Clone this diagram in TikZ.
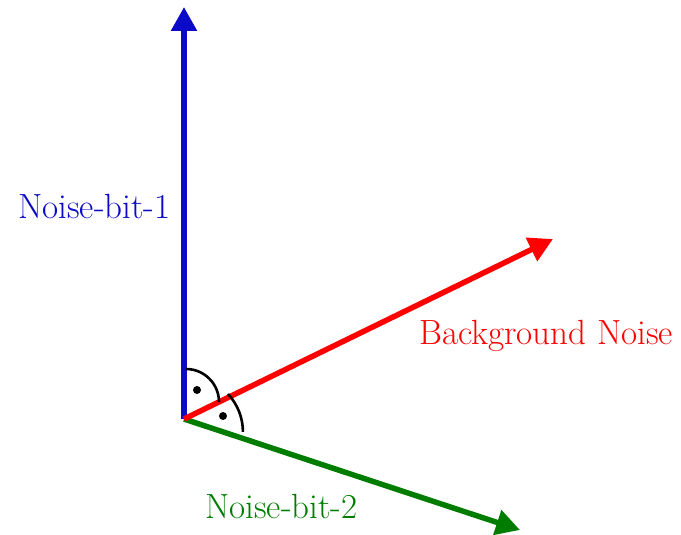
\documentclass[tikz,border=0pt]{standalone}
\usepackage{fontspec}
\usetikzlibrary{arrows.meta}
\definecolor{bitone}{RGB}{10,10,200}
\definecolor{bgnoise}{RGB}{255,0,0}
\definecolor{bittwo}{RGB}{0,125,0}
\definecolor{inkline}{RGB}{0,0,0}

\begin{document}
\begin{tikzpicture}[
  x=1pt, y=-1pt,
  >={Triangle[length=24pt,width=25pt]},
  vec/.style={->, line width=5.5pt},
  lab/.style={anchor=base west, inner sep=0pt, font=\rmfamily\fontsize{35}{42}\selectfont},
  ang/.style={draw=inkline, line width=2.6pt},
]
\useasboundingbox (0,0) rectangle (681,535);

% ---- origin + tips ----
\coordinate (o)   at (184,419);
\coordinate (b1)  at (184,7);
\coordinate (bg)  at (553,239);
\coordinate (b2)  at (520,530);

% ---- vectors ----
\draw[vec, draw=bitone, fill=bitone]   (o) -- (b1);
\draw[vec, draw=bittwo, fill=bittwo]   (o) -- (b2);
\draw[vec, draw=bgnoise, fill=bgnoise] (o) -- (bg);

% ---- labels ----
\node[lab, text=bitone]  (l1) at (18,218)  {Noise-bit-1};
\node[lab, text=bgnoise] (lb) at (419,344) {Background Noise};
\node[lab, text=bittwo]  (l2) at (205,518) {Noise-bit-2};

% ---- right-angle marks ----
\draw[ang] (186,369) arc[start angle=-90, end angle=0, radius=33];
\draw[ang] (228,394) arc[start angle=-43, end angle=0, radius=55.6];
\fill[inkline] (197,390) circle (4);
\fill[inkline] (223,416) circle (4);

\end{tikzpicture}
\end{document}
